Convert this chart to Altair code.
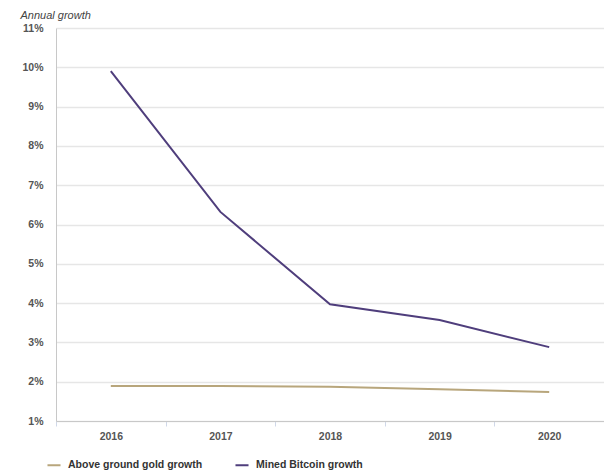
import altair as alt
import pandas as pd

years = ["2016", "2017", "2018", "2019", "2020"]
gold = [1.89, 1.89, 1.87, 1.81, 1.74]
bitcoin = [9.90, 6.32, 3.97, 3.57, 2.88]
series_names = ["Above ground gold growth", "Mined Bitcoin growth"]
colors = ["#b8a67c", "#4f3e7c"]
y_ticks = list(range(1, 12))

rows = []
for y, g, b in zip(years, gold, bitcoin):
    rows.append({"year": y, "series": series_names[0], "value": g})
    rows.append({"year": y, "series": series_names[1], "value": b})
df = pd.DataFrame(rows)

FONT = "Liberation Sans"

chart = alt.Chart(df).mark_line(strokeWidth=2).encode(
    x=alt.X("year:O",
            scale=alt.Scale(type="band", paddingInner=0, paddingOuter=0),
            axis=alt.Axis(title=None, labelAngle=0, tickBand="extent",
                          domainColor="#c8c8c8", tickColor="#d0d8e8", tickSize=5,
                          labelFont=FONT, labelFontSize=10.5, labelFontWeight="bold",
                          labelColor="#555555", labelPadding=5, grid=False)),
    y=alt.Y("value:Q",
            scale=alt.Scale(domain=[1, 11], nice=False, zero=False),
            axis=alt.Axis(values=y_ticks, labelExpr="datum.value + '%'",
                          title="Annual growth", titleAngle=0, titleX=-36, titleY=-10,
                          titleAlign="left", titleBaseline="alphabetic",
                          titleFont=FONT, titleFontSize=11, titleFontStyle="italic",
                          titleFontWeight="normal", titleColor="#444444",
                          labelFont=FONT, labelFontSize=10.5, labelFontWeight="bold",
                          labelColor="#555555", labelPadding=13,
                          domainColor="#c8c8c8", ticks=False,
                          gridColor="#e6e6e6", gridWidth=1.5)),
    color=alt.Color("series:N",
                    scale=alt.Scale(domain=series_names, range=colors),
                    legend=alt.Legend(title=None, orient="none", legendX=-10, legendY=429,
                                      direction="horizontal", symbolType="stroke",
                                      symbolStrokeWidth=2, symbolSize=170,
                                      labelFont=FONT, labelFontSize=10.5,
                                      labelFontWeight="bold", labelColor="#333333",
                                      columnPadding=28, labelOffset=6)),
).properties(
    width=548, height=393,
    autosize=alt.AutoSizeParams(type="none"),
    padding={"left": 56, "top": 28, "right": 0, "bottom": 49},
).configure_view(stroke=None)

chart.save("out.html", embed_options={"renderer": "svg", "actions": False})
